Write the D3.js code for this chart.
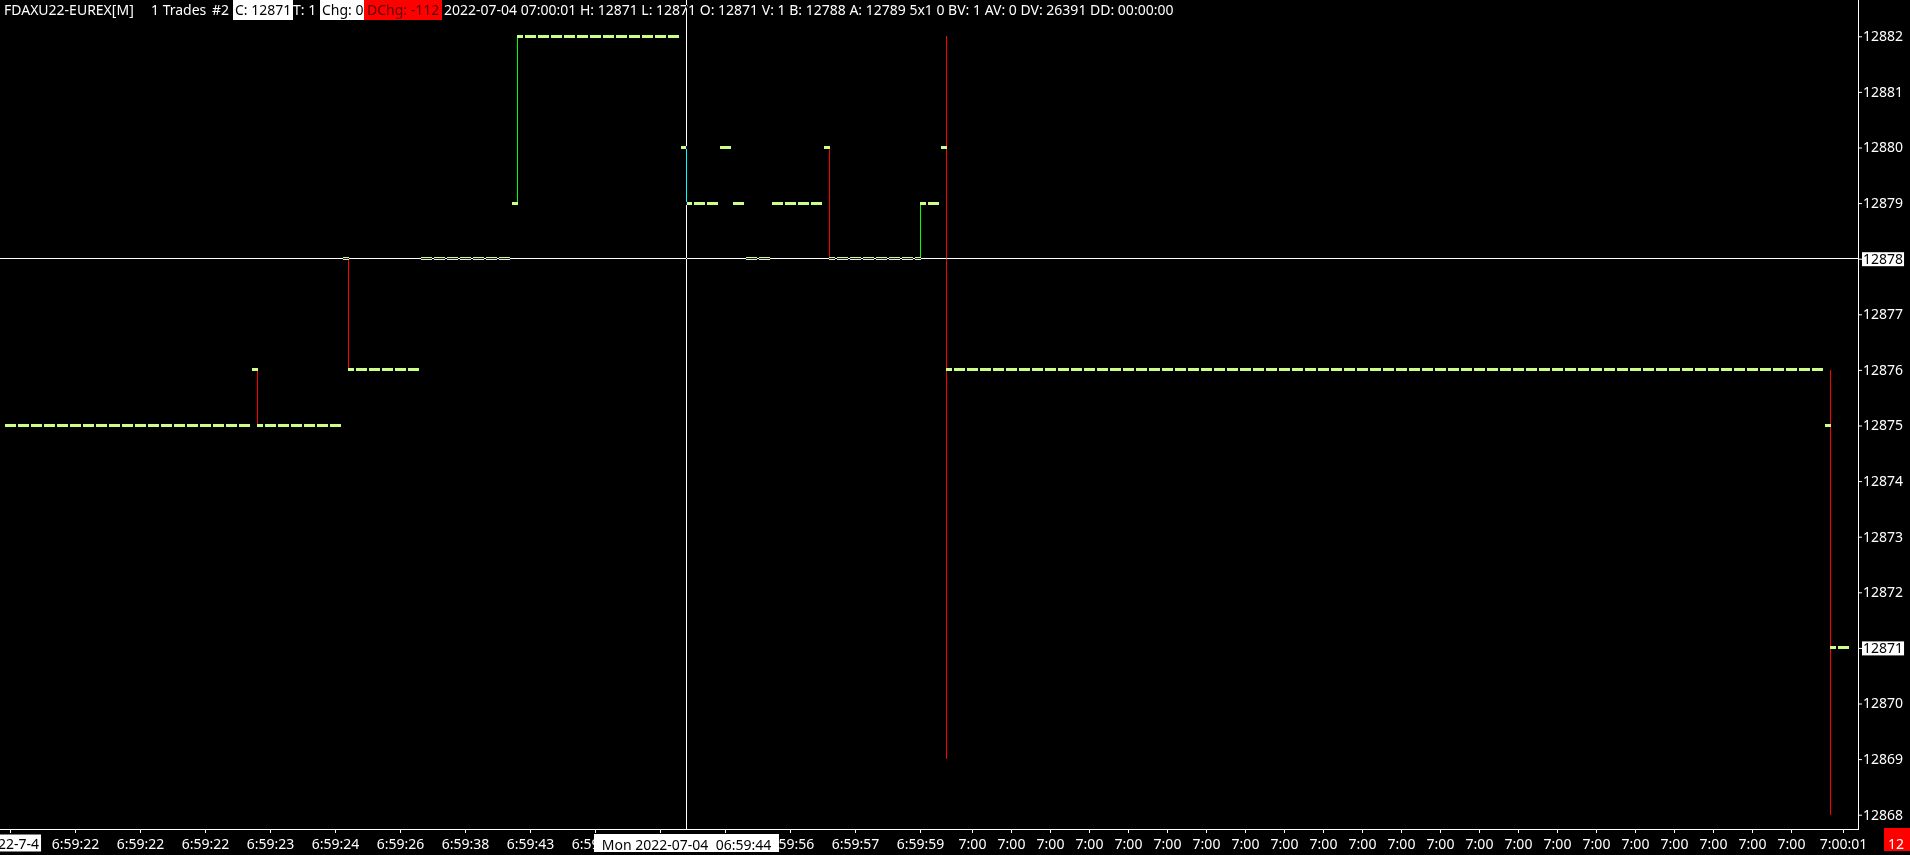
<!DOCTYPE html>
<html><head><meta charset="utf-8">
<script src="https://cdn.jsdelivr.net/npm/d3@7"></script>
<style>
html,body{margin:0;padding:0;background:#000;overflow:hidden}
svg{display:block}
text{font-family:"Noto Sans",sans-serif;font-size:14px;white-space:pre}
</style></head><body>
<svg id="c" width="1910" height="855"></svg>
<script>
// ---------------- DATA ----------------
const openP = [
 12875,12875,12875,12875,12875,12875,12875,12875,12875,12875,
 12875,12875,12875,12875,12875,12875,12875,12875,12875,12876,
 12875,12875,12875,12875,12875,12875,12878,12876,12876,12876,
 12876,12876,12878,12878,12878,12878,12878,12878,12878,12879,
 12882,12882,12882,12882,12882,12882,12882,12882,12882,12882,
 12882,12882,12880,12879,12879,12880,12879,12878,12878,12879,
 12879,12879,12879,12880,12878,12878,12878,12878,12878,12878,
 12878,12879,12880,12876,12876,12876,12876,12876,12876,12876,
 12876,12876,12876,12876,12876,12876,12876,12876,12876,12876,
 12876,12876,12876,12876,12876,12876,12876,12876,12876,12876,
 12876,12876,12876,12876,12876,12876,12876,12876,12876,12876,
 12876,12876,12876,12876,12876,12876,12876,12876,12876,12876,
 12876,12876,12876,12876,12876,12876,12876,12876,12876,12876,
 12876,12876,12876,12876,12876,12876,12876,12876,12876,12876,
 12875,12871];
const highP = [
 12875,12875,12875,12875,12875,12875,12875,12875,12875,12875,
 12875,12875,12875,12875,12875,12875,12875,12875,12875,12876,
 12875,12875,12875,12875,12875,12875,12878,12876,12876,12876,
 12876,12876,12878,12878,12878,12878,12878,12878,12878,12882,
 12882,12882,12882,12882,12882,12882,12882,12882,12882,12882,
 12882,12882,12880,12879,12879,12880,12879,12878,12878,12879,
 12879,12879,12879,12880,12878,12878,12878,12878,12878,12878,
 12879,12879,12882,12876,12876,12876,12876,12876,12876,12876,
 12876,12876,12876,12876,12876,12876,12876,12876,12876,12876,
 12876,12876,12876,12876,12876,12876,12876,12876,12876,12876,
 12876,12876,12876,12876,12876,12876,12876,12876,12876,12876,
 12876,12876,12876,12876,12876,12876,12876,12876,12876,12876,
 12876,12876,12876,12876,12876,12876,12876,12876,12876,12876,
 12876,12876,12876,12876,12876,12876,12876,12876,12876,12876,
 12876,12871];
const lowP = [
 12875,12875,12875,12875,12875,12875,12875,12875,12875,12875,
 12875,12875,12875,12875,12875,12875,12875,12875,12875,12875,
 12875,12875,12875,12875,12875,12875,12876,12876,12876,12876,
 12876,12876,12878,12878,12878,12878,12878,12878,12878,12879,
 12882,12882,12882,12882,12882,12882,12882,12882,12882,12882,
 12882,12882,12879,12879,12879,12880,12879,12878,12878,12879,
 12879,12879,12879,12878,12878,12878,12878,12878,12878,12878,
 12878,12879,12869,12876,12876,12876,12876,12876,12876,12876,
 12876,12876,12876,12876,12876,12876,12876,12876,12876,12876,
 12876,12876,12876,12876,12876,12876,12876,12876,12876,12876,
 12876,12876,12876,12876,12876,12876,12876,12876,12876,12876,
 12876,12876,12876,12876,12876,12876,12876,12876,12876,12876,
 12876,12876,12876,12876,12876,12876,12876,12876,12876,12876,
 12876,12876,12876,12876,12876,12876,12876,12876,12876,12876,
 12868,12871];
const closeP = [
 12875,12875,12875,12875,12875,12875,12875,12875,12875,12875,
 12875,12875,12875,12875,12875,12875,12875,12875,12875,12875,
 12875,12875,12875,12875,12875,12875,12876,12876,12876,12876,
 12876,12876,12878,12878,12878,12878,12878,12878,12878,12882,
 12882,12882,12882,12882,12882,12882,12882,12882,12882,12882,
 12882,12882,12879,12879,12879,12880,12879,12878,12878,12879,
 12879,12879,12879,12878,12878,12878,12878,12878,12878,12878,
 12879,12879,12876,12876,12876,12876,12876,12876,12876,12876,
 12876,12876,12876,12876,12876,12876,12876,12876,12876,12876,
 12876,12876,12876,12876,12876,12876,12876,12876,12876,12876,
 12876,12876,12876,12876,12876,12876,12876,12876,12876,12876,
 12876,12876,12876,12876,12876,12876,12876,12876,12876,12876,
 12876,12876,12876,12876,12876,12876,12876,12876,12876,12876,
 12876,12876,12876,12876,12876,12876,12876,12876,12876,12876,
 12871,12871];

const priceTicks = [12868,12869,12870,12871,12872,12873,12874,12875,12876,12877,12878,12879,12880,12881,12882];
const boxedPrices = [12878, 12871];

const timeTickBars = [0,5,10,15,20,25,30,35,40,45,50,55,60,65,70,74,77,80,83,86,89,92,95,98,101,104,107,110,113,116,119,122,125,128,131,134,137,141];
const timeTickLabels = ["2022-7-4","6:59:22","6:59:22","6:59:22","6:59:23","6:59:24","6:59:26","6:59:38","6:59:43","6:59:43","6:59:44","6:59:50","6:59:56","6:59:57","6:59:59",
 "7:00","7:00","7:00","7:00","7:00","7:00","7:00","7:00","7:00","7:00","7:00","7:00","7:00","7:00","7:00","7:00","7:00","7:00","7:00","7:00","7:00","7:00","7:00:01"];
const dateTickBars = [0];

const crossBar = 52;
const crossPrice = 12878;
const crossLabel = "Mon 2022-07-04\u00a0\u00a006:59:44";

const headerTokens = ["FDAXU22-EUREX[M]", "1 Trades", "#2", "C: 12871", "T: 1", "Chg: 0", "DChg: -112",
 "2022-07-04 07:00:01 H: 12871 L: 12871 O: 12871 V: 1 B: 12788 A: 12789 5x1 0 BV: 1 AV: 0 DV: 26391 DD: 00:00:00"];
const headerStyles = ["plain", "plain", "plain", "white", "plain", "white", "red", "plain"];
const cornerLabel = "12";

// ---------------- DRAW ----------------
const W = 1910, H = 855;
const plotRight = 1858.5, plotBottom = 829.5;
const LIME = "#ccff88", RED = "#ff0000", GREEN = "#00ff00";
const FONT = '"Noto Sans", sans-serif';
const headerX = [4, 151, 212, 235, 293, 322, 367, 444];

const svg = d3.select("#c");
svg.append("rect").attr("width", W).attr("height", H).attr("fill", "#000");

const idx = d3.range(closeP.length);
const x = d3.scaleBand().domain(idx).range([4, 4 + 13 * idx.length]);
const xc = i => x(i) + x.bandwidth() / 2;
const y = d3.scaleLinear().domain([12868, 12882]).range([814.7, 36.3]);

// header
const hg = svg.append("g");
headerTokens.forEach((t, k) => {
  const s = headerStyles[k];
  const hx = headerX[k];
  const txt = hg.append("text").attr("x", hx).attr("y", 15).text(t)
    .attr("fill", s === "white" ? "#000" : s === "red" ? "#5a0000" : "#fff");
  const w = txt.node().getComputedTextLength();
  if (s !== "plain") {
    const pad = s === "red" ? 3 : 2;
    hg.insert("rect", () => txt.node())
      .attr("x", Math.round(hx - pad)).attr("y", 0).attr("width", Math.round(w + pad * 2)).attr("height", 20)
      .attr("fill", s === "white" ? "#fff" : "#ff0000");
  }
});

// bars
const g = svg.append("g").attr("shape-rendering", "crispEdges");
g.selectAll("line.hl").data(idx.filter(i => highP[i] !== lowP[i])).join("line")
  .attr("class", "hl")
  .attr("x1", xc).attr("x2", xc)
  .attr("y1", i => Math.round(y(highP[i]))).attr("y2", i => Math.round(y(lowP[i])))
  .attr("stroke", i => closeP[i] < openP[i] ? RED : GREEN).attr("stroke-width", 1);
g.selectAll("rect.o").data(idx).join("rect").attr("class", "o")
  .attr("x", i => xc(i) - 5.5).attr("y", i => Math.round(y(openP[i]) - 1.5))
  .attr("width", 6).attr("height", 3).attr("fill", LIME);
g.selectAll("rect.c").data(idx).join("rect").attr("class", "c")
  .attr("x", i => xc(i) - 0.5).attr("y", i => Math.round(y(closeP[i]) - 1.5))
  .attr("width", 6).attr("height", 3).attr("fill", LIME);

// frame
svg.append("path").attr("d", `M0,${plotBottom}H${plotRight}V0`).attr("fill", "none")
  .attr("stroke", "#fff").attr("shape-rendering", "crispEdges");

// right axis
const ya = svg.append("g").attr("transform", `translate(${plotRight - 0.5},0)`)
  .call(d3.axisRight(y).tickValues(priceTicks).tickSize(4).tickPadding(1).tickFormat(d3.format("d")));
ya.attr("font-family", FONT).attr("font-size", 14);
ya.select(".domain").remove();
ya.selectAll(".tick line").attr("stroke", "#fff");
ya.selectAll(".tick text").attr("fill", "#fff");

// bottom axis
const labelOf = new Map(timeTickBars.map((b, k) => [b, timeTickLabels[k]]));
const xa = svg.append("g").attr("transform", `translate(0,${plotBottom - 0.5})`)
  .call(d3.axisBottom(x).tickValues(timeTickBars).tickSize(4).tickPadding(6).tickFormat(b => labelOf.get(b)));
xa.attr("font-family", FONT).attr("font-size", 14);
xa.select(".domain").remove();
xa.selectAll(".tick line").attr("stroke", "#fff");
xa.selectAll(".tick text").attr("fill", "#fff");
xa.selectAll(".tick").filter(b => dateTickBars.includes(b)).each(function () {
  const t = d3.select(this).select("text");
  const bb = t.node().getBBox();
  d3.select(this).insert("rect", "text").attr("x", bb.x - 2).attr("y", 5.5).attr("width", bb.width + 4).attr("height", 17).attr("fill", "#fff");
  t.attr("fill", "#000");
});

// crosshair (inverting)
const ch = svg.append("g").attr("shape-rendering", "crispEdges");
const cyy = Math.floor(y(crossPrice)) + 0.5;
ch.append("line").attr("x1", 0).attr("x2", plotRight - 0.5).attr("y1", cyy).attr("y2", cyy)
  .attr("stroke", "#fff").style("mix-blend-mode", "difference");
ch.append("line").attr("x1", xc(crossBar)).attr("x2", xc(crossBar)).attr("y1", 0).attr("y2", plotBottom - 0.5)
  .attr("stroke", "#fff").style("mix-blend-mode", "difference");

// boxed price labels
ya.selectAll(".tick").filter(v => boxedPrices.includes(v)).each(function () {
  const t = d3.select(this).select("text");
  const bb = t.node().getBBox();
  d3.select(this).insert("rect", "text").attr("x", bb.x - 1).attr("y", -7).attr("width", bb.width + 2).attr("height", 14).attr("fill", "#fff");
  t.attr("fill", "#000");
});
ya.raise();

// crosshair time label
const tl = svg.append("g").attr("font-family", FONT).attr("font-size", 14);
const tt = tl.append("text").attr("x", xc(crossBar)).attr("y", 850).attr("text-anchor", "middle").attr("fill", "#000").text(crossLabel);
const tb = tt.node().getBBox();
tl.insert("rect", "text").attr("x", Math.round(tb.x - 8)).attr("y", 834).attr("width", Math.round(tb.width + 16)).attr("height", 18).attr("fill", "#fff");

// corner label
svg.append("rect").attr("x", 1884).attr("y", 828).attr("width", 30).attr("height", 23).attr("fill", "#ff0000");
svg.append("text").attr("x", 1888).attr("y", 849).attr("fill", "#fff").text(cornerLabel);
</script>
</body></html>
